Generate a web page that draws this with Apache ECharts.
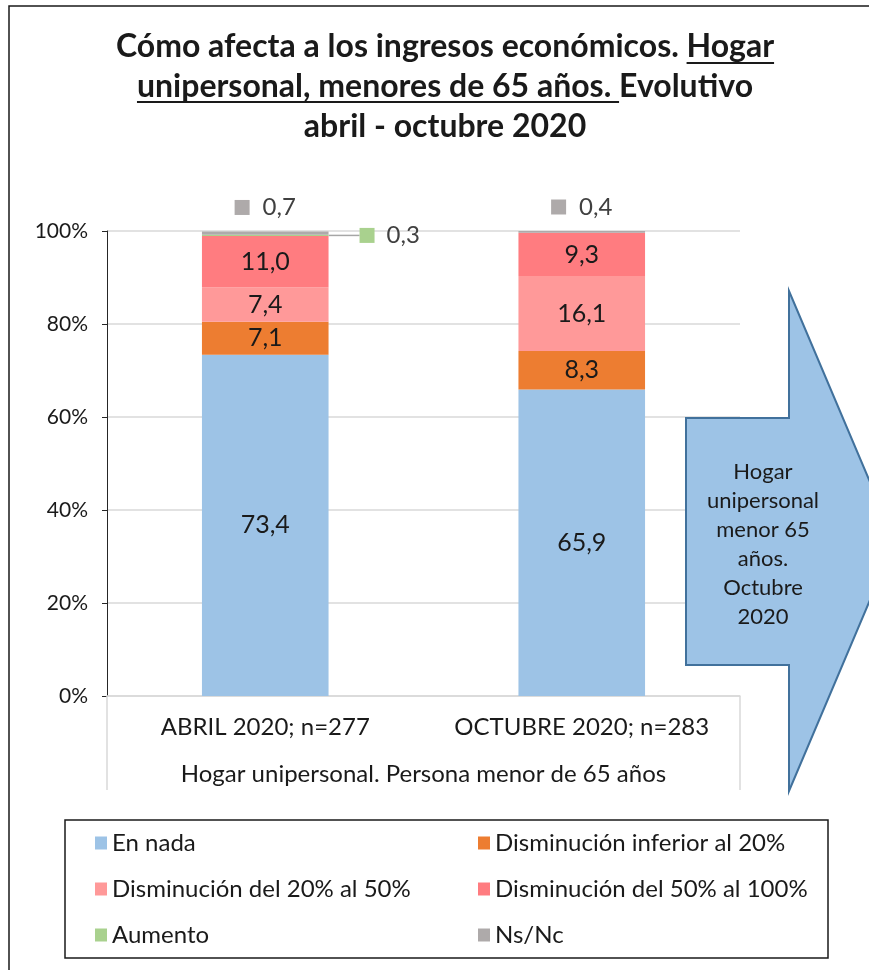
<!DOCTYPE html>
<html>
<head>
<meta charset="utf-8">
<script src="https://cdn.jsdelivr.net/npm/echarts@6/dist/echarts.min.js"></script>
<style>
  html, body { margin: 0; padding: 0; background: #fff; }
  #main { width: 869px; height: 970px; }
</style>
</head>
<body>
<div id="main"></div>
<script>
var categories = ['ABRIL 2020; n=277', 'OCTUBRE 2020; n=283'];
var seriesNames = ['En nada', 'Disminución inferior al 20%', 'Disminución del 20% al 50%',
                   'Disminución del 50% al 100%', 'Aumento', 'Ns/Nc'];
var enNada = [73.4, 65.9];
var inferior20 = [7.1, 8.3];
var del20al50 = [7.4, 16.1];
var del50al100 = [11.0, 9.3];
var aumento = [0.3, null];
var nsnc = [0.7, 0.4];
var yTicks = [0, 20, 40, 60, 80, 100];

var colors = ['#9DC3E6', '#ED7D31', '#FF9999', '#FF7C80', '#A9D18E', '#AEAAAA'];
var FONT = 'Lato';

var gridLeft = 107, gridRight = 129, gridTop = 231, gridBottom = 274;
var W = 869;

var chart = echarts.init(document.getElementById('main'), null, { renderer: 'canvas' });

function fmt(v) { return v == null ? '' : v.toFixed(1).replace('.', ','); }

var insideLabel = {
    show: true,
    position: 'inside',
    fontFamily: FONT,
    fontSize: 25,
    color: '#1a1a1a',
    formatter: function (p) { return fmt(p.value); }
};

function barSeries(i, data, extra) {
    var s = {
        name: seriesNames[i],
        type: 'bar',
        stack: 'total',
        barWidth: '40%',
        data: data,
        itemStyle: { color: colors[i] },
        label: insideLabel
    };
    for (var k in extra) s[k] = extra[k];
    return s;
}

// title underline positions measured from the real text
var TITLE_FONT = 'bold 32px ' + FONT;
var ctx = document.createElement('canvas').getContext('2d');
ctx.font = TITLE_FONT;
var titleLines = ['Cómo afecta a los ingresos económicos. Hogar',
                  'unipersonal, menores de 65 años. Evolutivo',
                  'abril - octubre 2020'];
var titleX = 445, titleY = 27, titleLH = 40;
var w1 = ctx.measureText(titleLines[0]).width;
var u1a = titleX - w1 / 2 + ctx.measureText('Cómo afecta a los ingresos económicos. ').width;
var u1b = titleX + w1 / 2;
var w2 = ctx.measureText(titleLines[1]).width;
var u2a = titleX - w2 / 2;
var u2b = u2a + ctx.measureText('unipersonal, menores de 65 años. ').width;

var axisRight = W - gridRight;

var legendText = { fontFamily: FONT, fontSize: 24, color: '#1a1a1a', lineHeight: 22 };

option = {
    animation: false,
    textStyle: { fontFamily: FONT },
    grid: { left: gridLeft, right: gridRight, top: gridTop, bottom: gridBottom },
    legend: [
        {
            data: [seriesNames[0], seriesNames[2], seriesNames[4]],
            orient: 'vertical', left: 95, top: 831, padding: 0,
            itemWidth: 12, itemHeight: 13, itemGap: 22, icon: 'rect',
            textStyle: legendText
        },
        {
            data: [seriesNames[1], seriesNames[3], seriesNames[5]],
            orient: 'vertical', left: 478, top: 831, padding: 0,
            itemWidth: 12, itemHeight: 13, itemGap: 22, icon: 'rect',
            textStyle: legendText
        }
    ],
    xAxis: {
        type: 'category',
        data: categories,
        axisLine: { lineStyle: { color: '#d9d9d9', width: 1.5 } },
        axisTick: { show: false },
        axisLabel: { interval: 0, fontFamily: FONT, fontSize: 24, color: '#1a1a1a', margin: 19 },
        name: 'Hogar unipersonal. Persona menor de 65 años',
        nameLocation: 'middle',
        nameGap: 66,
        nameTextStyle: { fontFamily: FONT, fontSize: 24, color: '#1a1a1a' }
    },
    yAxis: {
        type: 'value',
        min: yTicks[0],
        max: yTicks[yTicks.length - 1],
        interval: 20,
        axisLine: { show: true, lineStyle: { color: '#262626', width: 1 } },
        axisTick: { show: true, length: 5, lineStyle: { color: '#262626' } },
        axisLabel: { fontFamily: FONT, fontSize: 21, color: '#1a1a1a', margin: 19,
                     formatter: '{value}%' },
        splitLine: { lineStyle: { color: '#d9d9d9', width: 1.5 } }
    },
    series: [
        barSeries(0, enNada),
        barSeries(1, inferior20),
        barSeries(2, del20al50),
        barSeries(3, del50al100),
        barSeries(4, aumento, {
            label: {
                show: true, position: 'right', distance: 2,
                formatter: function (p) { return p.value ? '{sq|}{v|' + fmt(p.value) + '}' : ''; },
                rich: {
                    sq: { width: 15, height: 15, backgroundColor: colors[4] },
                    v: { fontFamily: FONT, fontSize: 24, color: '#404040', padding: [0, 0, 0, 12] }
                }
            },
            labelLayout: { dx: 29 },
            labelLine: { show: true, lineStyle: { color: '#a6a6a6', width: 1.5 } }
        }),
        barSeries(5, nsnc, {
            label: {
                show: true, position: 'top', distance: 12,
                formatter: function (p) { return '{sq|}{v|' + fmt(p.value) + '}'; },
                rich: {
                    sq: { width: 15, height: 15, backgroundColor: colors[5] },
                    v: { fontFamily: FONT, fontSize: 24, color: '#404040', padding: [0, 0, 0, 13] }
                }
            }
        })
    ],
    graphic: [
        // outer chart frame
        { type: 'rect', silent: true, z: 0,
          shape: { x: 9, y: 6, width: 900, height: 1000 },
          style: { fill: null, stroke: '#1a1a1a', lineWidth: 1.5 } },
        // title
        { type: 'text', x: titleX, y: titleY, z: 10,
          style: { text: titleLines.join('\n'), font: TITLE_FONT, fill: '#1a1a1a',
                   textAlign: 'center', lineHeight: titleLH } },
        { type: 'line', z: 10, shape: { x1: u1a, y1: 63, x2: u1b, y2: 63 },
          style: { stroke: '#1a1a1a', lineWidth: 2 } },
        { type: 'line', z: 10, shape: { x1: u2a, y1: 102, x2: u2b, y2: 102 },
          style: { stroke: '#1a1a1a', lineWidth: 2 } },
        // category axis box sides
        { type: 'line', z: 1, shape: { x1: gridLeft, y1: 970 - gridBottom, x2: gridLeft, y2: 790 },
          style: { stroke: '#d9d9d9', lineWidth: 1.5 } },
        { type: 'line', z: 1, shape: { x1: axisRight, y1: 970 - gridBottom, x2: axisRight, y2: 790 },
          style: { stroke: '#d9d9d9', lineWidth: 1.5 } },
        // legend frame
        { type: 'rect', z: 1,
          shape: { x: 65, y: 820, width: 763, height: 138 },
          style: { fill: null, stroke: '#1a1a1a', lineWidth: 1.5 } },
        // arrow
        { type: 'polygon', z: 20,
          shape: { points: [[686, 418], [789, 418], [789, 291], [895, 541], [789, 791], [789, 665], [686, 665]] },
          style: { fill: '#9DC3E6', stroke: '#41719C', lineWidth: 2 } },
        { type: 'text', x: 763, y: 544, z: 21,
          style: { text: 'Hogar\nunipersonal\nmenor 65\naños.\nOctubre\n2020',
                   font: '22px ' + FONT, fill: '#1a1a1a', textAlign: 'center',
                   textVerticalAlign: 'middle', lineHeight: 29 } }
    ]
};

if (option && typeof option === 'object') {
    chart.setOption(option, true);
}
</script>
</body>
</html>
